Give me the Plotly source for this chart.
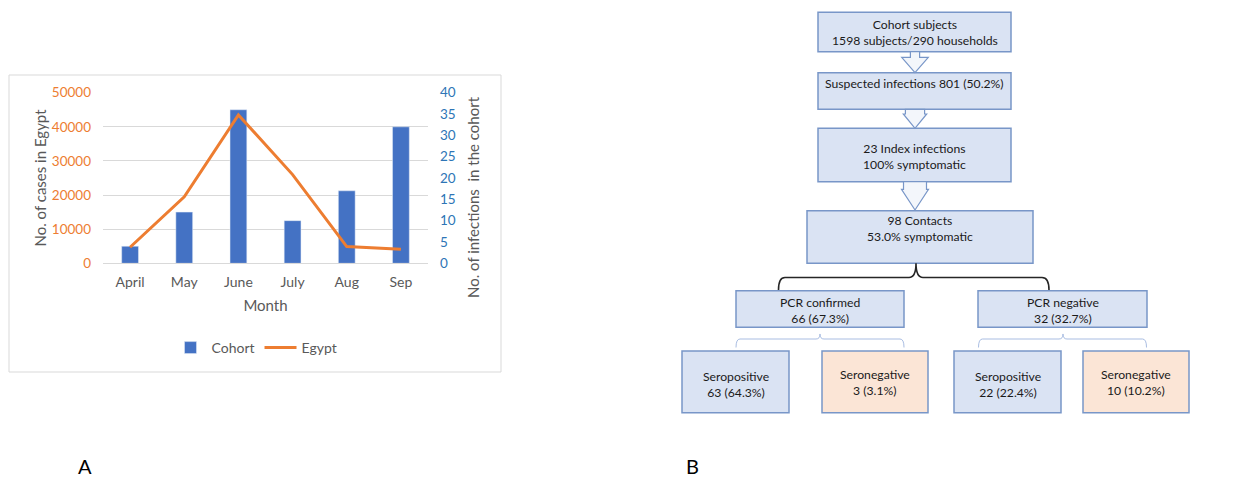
import plotly.graph_objects as go

W, H = 1256, 481
# the page body keeps its default 8px margin, so the figure is drawn 8px right/down;
# layout positions below are given in screen pixels and shifted back by this offset
OX, OY = 8, 8

months = ["April", "May", "June", "July", "Aug", "Sep"]
cohort = [4, 12, 36, 10, 17, 32]
egypt = [4700, 19500, 43500, 26000, 4900, 4100]

left_ticks = [0, 10000, 20000, 30000, 40000, 50000]
right_ticks = [0, 5, 10, 15, 20, 25, 30, 35, 40]

FONT = "Lato"
BLUE = "#4472C4"
ORANGE = "#ED7D31"
GREY = "#595959"


def X(px):
    return (px - OX) / W


def Y(py):
    return 1 - (py - OY) / H


fig = go.Figure()
fig.add_trace(go.Bar(x=months, y=cohort, name="Cohort", marker_color=BLUE,
                     yaxis="y", xaxis="x"))
fig.add_trace(go.Scatter(x=months, y=egypt, name="Egypt", mode="lines",
                         line=dict(color=ORANGE, width=3), yaxis="y2", xaxis="x"))

shapes = []
annotations = []

# outer frame of panel A
shapes.append(dict(type="rect", xref="paper", yref="paper",
                   x0=X(9), x1=X(501), y0=Y(372), y1=Y(75),
                   line=dict(color="#D9D9D9", width=1), layer="below"))

# right axis title (placed like the original, slightly below centre)
annotations.append(dict(xref="paper", yref="paper", x=X(473), y=Y(197),
                        text="No. of infections  in the cohort", textangle=-90,
                        showarrow=False, xanchor="center", yanchor="middle",
                        font=dict(family=FONT, size=15, color=GREY)))

# ---- flowchart (panel B) ----
BOX_FILL = "#DAE3F3"
BOX_LINE = "#7896C8"
NEG_FILL = "#FBE5D6"
TS = 12.2

boxes = [
    (818, 1011, 12.3, 51.7, BOX_FILL, "Cohort subjects<br>1598 subjects/290 households", 32, "middle"),
    (818, 1011, 72.7, 109.3, BOX_FILL, "Suspected infections 801 (50.2%)", 74.5, "top"),
    (818, 1011, 128.3, 181.7, BOX_FILL, "23 Index infections<br>100% symptomatic", 156, "middle"),
    (807, 1033, 210.7, 263.3, BOX_FILL, "98 Contacts<br>53.0% symptomatic", 229, "middle"),
    (736, 904, 290.7, 327.3, BOX_FILL, "PCR confirmed<br>66 (67.3%)", 310, "middle"),
    (978, 1147, 290.7, 327.3, BOX_FILL, "PCR negative<br>32 (32.7%)", 310, "middle"),
    (682, 789, 351, 412.7, BOX_FILL, "Seropositive<br>63 (64.3%)", 384, "middle"),
    (822, 928, 351, 412.7, NEG_FILL, "Seronegative<br>3 (3.1%)", 382, "middle"),
    (954, 1061, 351, 412.7, BOX_FILL, "Seropositive<br>22 (22.4%)", 384, "middle"),
    (1083, 1189, 351, 412.7, NEG_FILL, "Seronegative<br>10 (10.2%)", 382, "middle"),
]
for x0, x1, y0, y1, fill, txt, ty, ya in boxes:
    shapes.append(dict(type="rect", xref="paper", yref="paper",
                       x0=X(x0), x1=X(x1), y0=Y(y1), y1=Y(y0),
                       fillcolor=fill, line=dict(color=BOX_LINE, width=1.5)))
    annotations.append(dict(xref="paper", yref="paper", x=X((x0 + x1) / 2), y=Y(ty),
                            text=txt, showarrow=False, xanchor="center", yanchor=ya,
                            font=dict(family=FONT, size=TS, color="#1a1a1a"),
                            align="center"))


def block_arrow(cx, y_top, y_neck, y_tip, shaft_hw, head_hw):
    pts = [(cx - shaft_hw, y_top), (cx + shaft_hw, y_top), (cx + shaft_hw, y_neck),
           (cx + head_hw, y_neck), (cx, y_tip), (cx - head_hw, y_neck),
           (cx - shaft_hw, y_neck)]
    path = "M " + " L ".join(f"{X(a):.5f},{Y(b):.5f}" for a, b in pts) + " Z"
    return dict(type="path", xref="paper", yref="paper", path=path,
                fillcolor="#F3F6FB", line=dict(color=BOX_LINE, width=1.2))


shapes.append(block_arrow(915, 51.7, 57.3, 72.7, 4.6, 13.3))
shapes.append(block_arrow(915, 109.3, 114, 128.3, 9.6, 11.7))
shapes.append(block_arrow(915, 181.7, 189.3, 210, 11.5, 13.5))


def path_str(cmds):
    out = []
    for c in cmds:
        if isinstance(c, str):
            out.append(c)
        else:
            out.append(f"{X(c[0]):.5f},{Y(c[1]):.5f}")
    return " ".join(out)


yb = 277.5
brace = path_str(["M", (778.5, 290), "Q", (778.5, yb), (785, yb), "L", (909, yb),
                  "Q", (916, yb), (916, 263.3), "Q", (916, yb), (923, yb),
                  "L", (1042, yb), "Q", (1049, yb), (1049, 290)])
shapes.append(dict(type="path", xref="paper", yref="paper", path=brace,
                   line=dict(color="#262626", width=1.6)))


def thin_brace(xa, xm, xb, ybase=339, ytop=334, yend=347.5):
    return path_str(["M", (xa, yend), "Q", (xa, ybase), (xa + 4, ybase), "L", (xm - 4, ybase),
                     "Q", (xm, ybase), (xm, ytop), "Q", (xm, ybase), (xm + 4, ybase),
                     "L", (xb - 4, ybase), "Q", (xb, ybase), (xb, yend)])


for xa, xm, xb in [(736, 820, 904), (978.5, 1063, 1146.5)]:
    shapes.append(dict(type="path", xref="paper", yref="paper", path=thin_brace(xa, xm, xb),
                       line=dict(color="#A9BDE2", width=1)))

for letter, lx in [("A", 85), ("B", 692)]:
    annotations.append(dict(xref="paper", yref="paper", x=X(lx), y=Y(466), text=letter,
                            showarrow=False, xanchor="center", yanchor="middle",
                            font=dict(family=FONT, size=20, color="#000")))

fig.update_layout(
    width=W, height=H,
    margin=dict(l=0, r=0, t=0, b=0, autoexpand=False),
    paper_bgcolor="white", plot_bgcolor="rgba(0,0,0,0)",
    font=dict(family=FONT, color=GREY),
    bargap=0.69,
    showlegend=True,
    legend=dict(orientation="h", x=X(256), xanchor="center", y=Y(348), yanchor="middle",
                font=dict(family=FONT, size=14, color=GREY), bgcolor="rgba(0,0,0,0)",
                itemwidth=32),
    xaxis=dict(domain=[X(103), X(428)], showline=True, linecolor="#D9D9D9",
               tickfont=dict(size=14, color=GREY), ticks="", ticklabelstandoff=6,
               title=dict(text="Month", font=dict(size=15, color=GREY), standoff=11)),
    yaxis=dict(domain=[Y(263.3), Y(92.7)], side="right", range=[0, 40],
               tickvals=right_ticks, showgrid=False, zeroline=False,
               tickfont=dict(size=13.5, color="#2E75B6"), ticklabelstandoff=11),
    yaxis2=dict(overlaying="y", side="left", range=[0, 50000], tickvals=left_ticks,
                tickformat="d", showgrid=True, gridcolor="#D9D9D9", zeroline=False,
                tickfont=dict(size=13.5, color=ORANGE), ticklabelstandoff=11,
                title=dict(text="No. of cases in Egypt", font=dict(size=15, color=GREY),
                           standoff=1)),
    shapes=shapes,
    annotations=annotations,
)

fig.write_html("out.html", config={"displayModeBar": False})
